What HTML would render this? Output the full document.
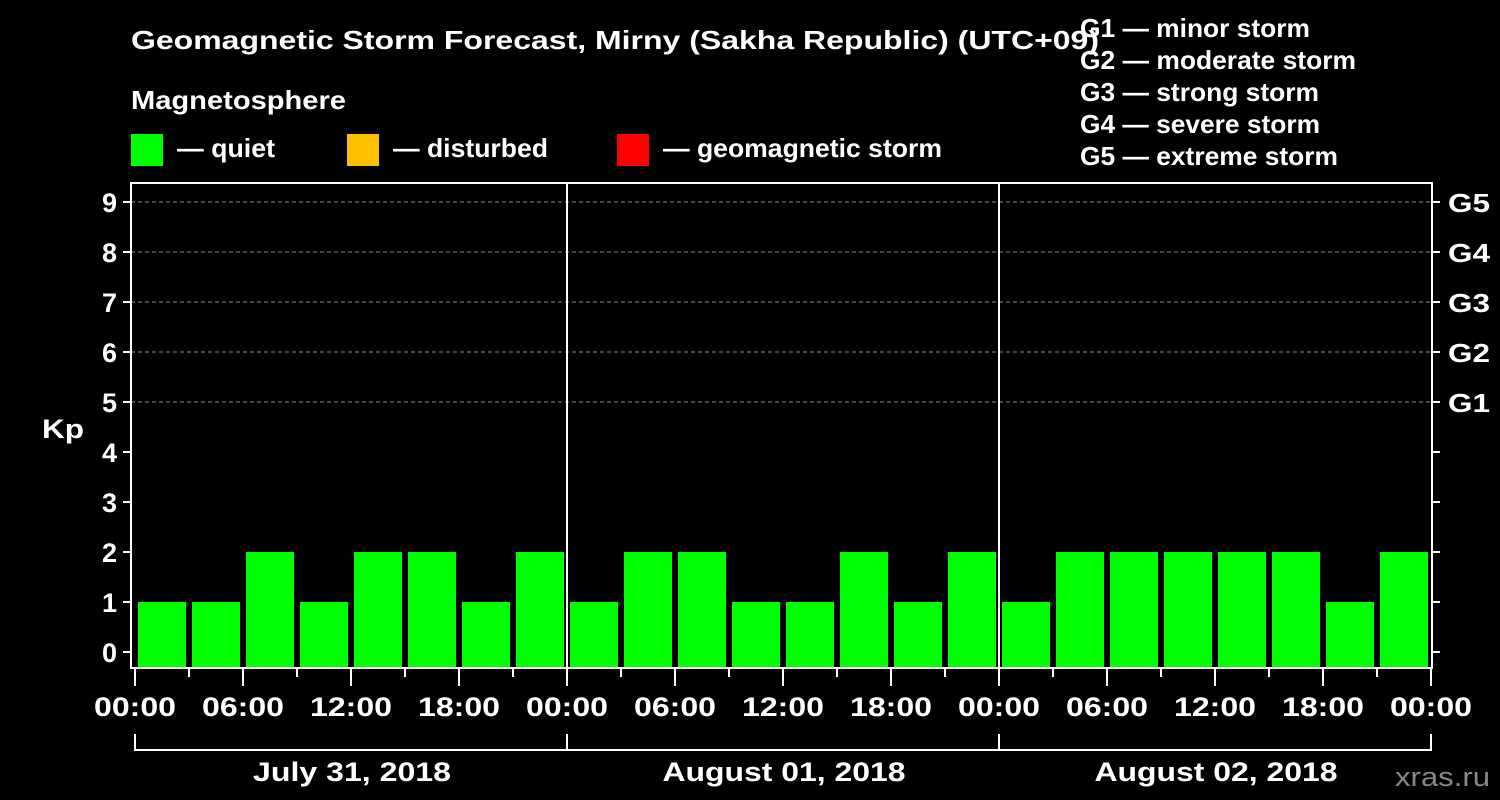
<!DOCTYPE html>
<html><head><meta charset="utf-8"><style>
body{margin:0;background:#000;}
svg{display:block;font-family:"Liberation Sans",Arial,sans-serif;font-weight:bold;}
</style></head><body>
<svg id="chart" width="1500" height="800">
<rect width="1500" height="800" fill="#000"/>
<text x="131" y="49" fill="#fff" font-size="26" textLength="968" lengthAdjust="spacingAndGlyphs">Geomagnetic Storm Forecast, Mirny (Sakha Republic) (UTC+09)</text>
<text x="131" y="109" fill="#fff" font-size="26" textLength="215" lengthAdjust="spacingAndGlyphs">Magnetosphere</text>
<g><rect x="131" y="134" width="32" height="32" fill="#00ff00"/><text x="177" y="157" fill="#fff" font-size="26" textLength="98" lengthAdjust="spacingAndGlyphs">— quiet</text></g>
<g><rect x="347" y="134" width="32" height="32" fill="#ffc000"/><text x="393" y="157" fill="#fff" font-size="26" textLength="155" lengthAdjust="spacingAndGlyphs">— disturbed</text></g>
<g><rect x="617" y="134" width="32" height="32" fill="#ff0000"/><text x="663" y="157" fill="#fff" font-size="26" textLength="279" lengthAdjust="spacingAndGlyphs">— geomagnetic storm</text></g>
<g fill="#fff" font-size="26">
<text x="1080" y="37" textLength="230" lengthAdjust="spacingAndGlyphs">G1 — minor storm</text>
<text x="1080" y="69" textLength="276" lengthAdjust="spacingAndGlyphs">G2 — moderate storm</text>
<text x="1080" y="101" textLength="239" lengthAdjust="spacingAndGlyphs">G3 — strong storm</text>
<text x="1080" y="133" textLength="240" lengthAdjust="spacingAndGlyphs">G4 — severe storm</text>
<text x="1080" y="165" textLength="258" lengthAdjust="spacingAndGlyphs">G5 — extreme storm</text>
</g>
<text x="42" y="438" fill="#fff" font-size="27" textLength="42" lengthAdjust="spacingAndGlyphs">Kp</text>
<text x="1395" y="786" fill="#888" font-size="27" textLength="95" lengthAdjust="spacingAndGlyphs" font-weight="normal">xras.ru</text>
<g id="g"></g>
</svg>
<script>
const kpValues=[1,1,2,1,2,2,1,2, 1,2,2,1,1,2,1,2, 1,2,2,2,2,2,1,2];
const dayLabels=["July 31, 2018","August 01, 2018","August 02, 2018"];
const hourLabels=["00:00","06:00","12:00","18:00"];
const yTicks=[0,1,2,3,4,5,6,7,8,9];
const gLabels=["G1","G2","G3","G4","G5"];
const gLevels=[5,6,7,8,9];
const NS="http://www.w3.org/2000/svg";
const g=document.getElementById('g');
const X0=135,PXH=18,Y0=652,PXK=50,L=131,R=1432,T=183,B=668;
const xs=h=>X0+h*PXH, ys=k=>Y0-k*PXK;
function el(t,a,p){const e=document.createElementNS(NS,t);for(const k in a)e.setAttribute(k,a[k]);(p||g).appendChild(e);return e;}
gLevels.forEach((k,i)=>{
 const l=el('line',{x1:L,x2:R,y1:ys(k),y2:ys(k),stroke:'#888','stroke-dasharray':'4,3','stroke-width':1});
 
 
 const t=el('text',{x:1448,y:ys(k)+10,fill:'#fff','font-size':26,textLength:42,lengthAdjust:'spacingAndGlyphs'});t.textContent=gLabels[i];
 
 
});
kpValues.forEach((v,i)=>{
 const r=el('rect',{x:xs(i*3)+3,y:ys(v),width:PXH*3-6,height:B-ys(v),fill:v>=5?'#ff0000':(v>=4?'#ffc000':'#00ff00')});
 
 
});
for(let d=1;d<dayLabels.length;d++){
 const l=el('line',{x1:xs(d*24),x2:xs(d*24),y1:T,y2:B,stroke:'#fff','stroke-width':2});
 
 
}
const f=el('rect',{x:L,y:T,width:R-L,height:B-T,fill:'none',stroke:'#fff','stroke-width':2});


yTicks.forEach(k=>{
 el('line',{x1:L-8,x2:L,y1:ys(k),y2:ys(k),stroke:'#fff','stroke-width':2});
 el('line',{x1:R,x2:R+8,y1:ys(k),y2:ys(k),stroke:'#fff','stroke-width':2});
 const t=el('text',{x:117,y:ys(k)+10,fill:'#fff','font-size':27,'text-anchor':'end'});t.textContent=k;
 
 
});
for(let h=0;h<=72;h+=3){
 const major=h%6===0;
 el('line',{x1:xs(h),x2:xs(h),y1:B,y2:major?686:677,stroke:'#fff','stroke-width':2});
 if(major){
  const t=el('text',{x:xs(h)-41,y:716,fill:'#fff','font-size':27,textLength:82,lengthAdjust:'spacingAndGlyphs'});
  t.textContent=hourLabels[(h%24)/6];
  
  
 }
}
dayLabels.forEach((d,i)=>{
 const a=xs(i*24),b=xs(i*24+24);
 el('path',{d:`M${a} 734V750H${b}V734`,stroke:'#fff','stroke-width':2,fill:'none'});
 const w=i===0?198:243;
 const t=el('text',{x:(a+b)/2-w/2+1,y:781,fill:'#fff','font-size':27,textLength:w,lengthAdjust:'spacingAndGlyphs'});t.textContent=d;
 
 
});
</script>
</body></html>
